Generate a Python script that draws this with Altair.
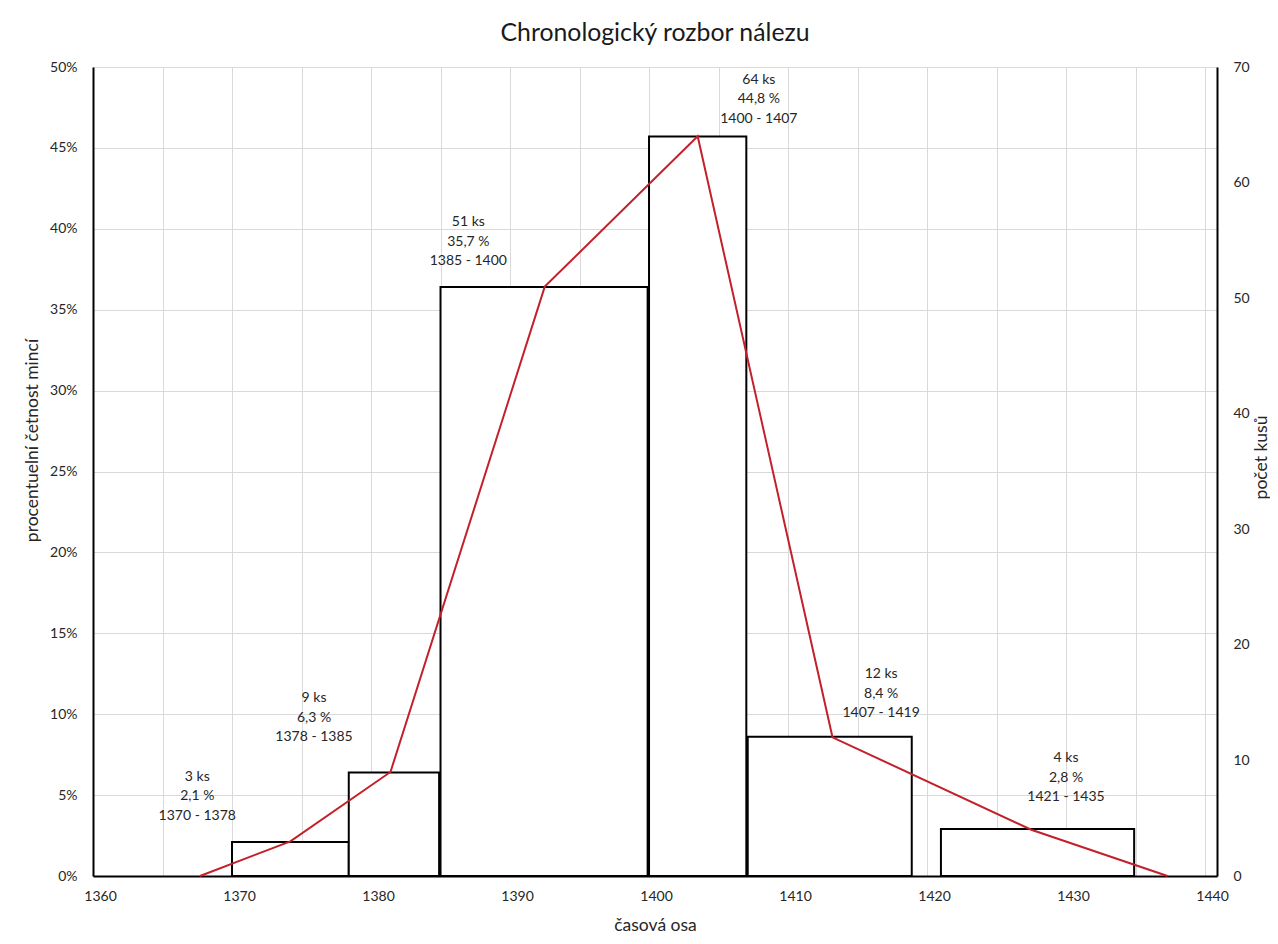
import altair as alt
import pandas as pd

# ---- data ----
bar_start = [1370, 1378.4, 1385, 1400, 1407.1, 1421]
bar_end = [1378.4, 1384.9, 1399.9, 1407, 1418.9, 1434.9]
bar_pct = [2.1, 6.4, 36.4, 45.7, 8.6, 2.9]

label_lines = [
    "3 ks\n2,1 %\n1370 - 1378",
    "9 ks\n6,3 %\n1378 - 1385",
    "51 ks\n35,7 %\n1385 - 1400",
    "64 ks\n44,8 %\n1400 - 1407",
    "12 ks\n8,4 %\n1407 - 1419",
    "4 ks\n2,8 %\n1421 - 1435",
]
label_x = [1367.5, 1375.9, 1387.0, 1407.9, 1416.7, 1430.0]
label_y = [6.14, 11.0, 40.42, 49.2, 12.48, 7.29]

line_year = [1367.7, 1374.2, 1381.4, 1392.5, 1403.5, 1413.2, 1427.5, 1437.3]
line_count = [0, 3, 9, 51, 64, 12, 4, 0]

x_grid_values = list(range(1360, 1441, 5))
pct_ticks = list(range(0, 51, 5))
count_ticks = list(range(0, 71, 10))

FONT = "Lato"
TXT = "#262626"

bars_df = pd.DataFrame({"start": bar_start, "end": bar_end, "pct": bar_pct})
labels_df = pd.DataFrame({"x": label_x, "y": label_y, "t": label_lines})
line_df = pd.DataFrame({"year": line_year, "count": line_count})

x_scale = alt.Scale(domain=[1360, 1440.86], nice=False, zero=False)
pct_scale = alt.Scale(domain=[0, 50], nice=False)
count_scale = alt.Scale(domain=[0, 70], nice=False)

x_axis = alt.Axis(
    values=x_grid_values,
    labelExpr="datum.value % 10 == 0 ? datum.label : ''",
    format="d",
    ticks=False,
    grid=True,
    gridColor="#d9d9d9",
    gridWidth=1,
    domainColor="black",
    domainWidth=2,
    labelPadding=13,
    labelOffset=7,
    labelFlush=False,
    labelFont=FONT,
    labelFontSize=14,
    labelColor=TXT,
    title="časová osa",
    titleFont=FONT,
    titleFontSize=17.5,
    titleFontWeight="normal",
    titleColor=TXT,
    titleY=49,
    titleBaseline="middle",
)

left_axis = alt.Axis(
    orient="left",
    values=pct_ticks,
    labelExpr="datum.value + '%'",
    ticks=False,
    grid=True,
    gridColor="#d9d9d9",
    gridWidth=1,
    domainColor="black",
    domainWidth=2,
    labelPadding=16,
    labelFlush=False,
    labelFont=FONT,
    labelFontSize=14,
    labelColor=TXT,
    title="procentuelní četnost mincí",
    titleFont=FONT,
    titleFontSize=17.5,
    titleFontWeight="normal",
    titleColor=TXT,
    titleAngle=270,
    titleX=-61,
    titleY=373,
    titleBaseline="middle",
    titleAlign="center",
)

right_axis = alt.Axis(
    orient="right",
    values=count_ticks,
    ticks=False,
    grid=False,
    domainColor="black",
    domainWidth=2,
    labelPadding=16,
    labelFlush=False,
    labelFont=FONT,
    labelFontSize=14,
    labelColor=TXT,
    title="počet kusů",
    titleFont=FONT,
    titleFontSize=17.5,
    titleFontWeight="normal",
    titleColor=TXT,
    titleAngle=270,
    titleX=44,
    titleY=390,
    titleBaseline="middle",
    titleAlign="center",
)

bars = alt.Chart(bars_df).mark_rect(fill="white", stroke="black", strokeWidth=2).encode(
    x=alt.X("start:Q", scale=x_scale, axis=x_axis),
    x2="end:Q",
    y=alt.Y("pct:Q", scale=pct_scale, axis=left_axis),
    y2=alt.datum(0),
)

line = alt.Chart(line_df).mark_line(color="#c2202a", strokeWidth=2).encode(
    x=alt.X("year:Q", scale=x_scale, axis=x_axis),
    y=alt.Y("count:Q", scale=count_scale, axis=right_axis),
)

texts = alt.Chart(labels_df).mark_text(
    font=FONT, fontSize=14, color=TXT, lineBreak="\n", lineHeight=19.5,
    align="center", baseline="middle",
).encode(
    x=alt.X("x:Q", scale=x_scale, axis=x_axis),
    y=alt.Y("y:Q", scale=pct_scale, axis=None),
    text="t:N",
)

chart = (
    alt.layer(bars, line, texts)
    .resolve_scale(y="independent")
    .properties(
        width=1124,
        height=809,
        autosize=alt.AutoSizeParams(type="none"),
        padding={"left": 85, "top": 59, "right": 53, "bottom": 60},
        title=alt.TitleParams(
            "Chronologický rozbor nálezu",
            font=FONT,
            fontSize=24.8,
            fontWeight="normal",
            color="#1a1a1a",
            anchor="middle",
            offset=14,
        ),
    )
    .configure_view(stroke=None)
    .configure(background="white")
)

chart.save("out.html", embed_options={"renderer": "svg", "actions": False})
